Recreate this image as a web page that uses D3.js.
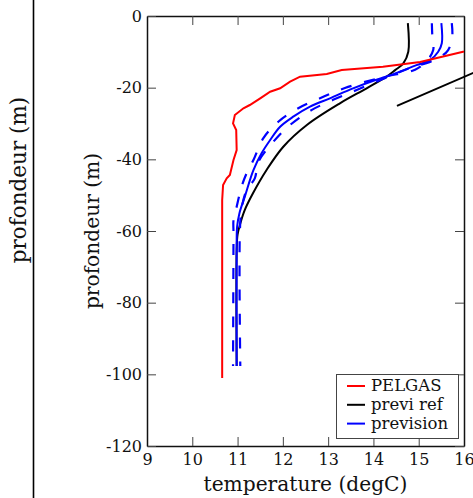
<!DOCTYPE html>
<html>
<head>
<meta charset="utf-8">
<script src="https://cdn.jsdelivr.net/npm/d3@7"></script>
<style>
  html, body { margin: 0; padding: 0; background: #fff; }
  svg { display: block; font-family: "DejaVu Serif", serif; }
</style>
</head>
<body>
<svg id="chart" width="473" height="498"></svg>
<script>
// ---- data ----
const xTicks = [9, 10, 11, 12, 13, 14, 15, 16];
const yTicks = [0, -20, -40, -60, -80, -100, -120];
const seriesNames = ["PELGAS", "previ ref", "prevision"];

const pelgasDepth = [-9.0, -9.96, -12.84, -14.15, -15.07, -16.19, -16.94, -18.34, -20.18, -21.13, -22.97, -24.84, -25.76, -27.63, -29.95, -31.82, -37.4, -40.19, -44.38, -45.3, -47.17, -51.35, -101.0];
const pelgasTemp  = [16.3, 15.98, 15.03, 14.21, 13.30, 12.97, 12.38, 12.16, 11.94, 11.72, 11.50, 11.27, 11.13, 10.94, 10.90, 10.97, 10.98, 10.91, 10.83, 10.76, 10.68, 10.66, 10.66];

const refDepth = [-2, -9.96, -13.2, -15.1, -16.94, -20.18, -24.37, -30.42, -36.48, -42.98, -49.48, -54.1, -57.9, -61.0, -65.3, -97.7];
const refTemp  = [14.76, 14.77, 14.66, 14.48, 14.29, 13.85, 13.26, 12.53, 12.01, 11.64, 11.34, 11.16, 11.06, 11.0, 10.98, 10.98];

const prevDepth = [-2, -7.6, -9.96, -12.3, -13.7, -15.5, -16.9, -18.06, -20.2, -22.97, -25.3, -28.1, -30.9, -34.6, -38.3, -43.0, -50.4, -55.1, -58.8, -65.3, -97.7];
const prevTemp  = [15.50, 15.51, 15.43, 15.25, 14.95, 14.59, 14.29, 14.0, 13.55, 13.04, 12.60, 12.23, 11.94, 11.72, 11.53, 11.35, 11.16, 11.04, 10.99, 10.98, 10.98];

const prevLowDepth = [-2, -5.5, -9.5, -12.5, -15.0, -17.0, -20.1, -22.97, -25.76, -29.5, -34.1, -40.2, -43.9, -47.6, -53.2, -56.9, -60.6, -97.7];
const prevLowTemp  = [15.29, 15.30, 15.32, 15.18, 14.92, 14.23, 13.37, 12.82, 12.34, 11.90, 11.57, 11.35, 11.20, 11.09, 10.98, 10.91, 10.91, 10.90];

const prevHighDepth = [-2, -6, -9.5, -11.5, -12.8, -14.5, -16.5, -20.65, -23.4, -26.2, -30.4, -35.1, -40.7, -45.3, -48.6, -53.7, -60.6, -97.7];
const prevHighTemp  = [15.73, 15.74, 15.65, 15.47, 15.25, 14.81, 14.41, 13.63, 13.11, 12.64, 12.16, 11.79, 11.46, 11.38, 11.20, 11.09, 11.05, 11.06];

// piece of a neighbouring figure that pokes into the right side
const strayDepth = [-25.1, -15.07];
const strayTemp  = [14.52, 16.35];

// ---- layout ----
const W = 473, H = 498;
const m = { left: 147, right: 464, top: 16, bottom: 446 };
const svg = d3.select("#chart");

const x = d3.scaleLinear().domain([9, 16]).range([m.left, m.right]);
const y = d3.scaleLinear().domain([0, -120]).range([m.top, m.bottom]);

const zip = (ds, ts) => ds.map((d, i) => ({ d: d, t: ts[i] }));

svg.append("clipPath").attr("id", "plotclip")
  .append("rect").attr("x", m.left).attr("y", m.top)
  .attr("width", m.right - m.left).attr("height", m.bottom - m.top);

// outer vertical line and label belonging to neighbouring figure
svg.append("line").attr("x1", 33.5).attr("x2", 33.5).attr("y1", 0).attr("y2", H)
  .attr("stroke", "#000").attr("stroke-width", 1.6);
svg.append("text")
  .attr("transform", "translate(26,180) rotate(-90)")
  .attr("text-anchor", "middle").attr("font-size", 21.5).attr("fill", "#111")
  .text("profondeur (m)");

// axes
const fmt = d => String(d);
const tickLen = 9;
function styleAxis(g) {
  g.select(".domain").attr("stroke", "#111").attr("stroke-width", 1.5);
  g.selectAll(".tick line").attr("stroke", "#444").attr("stroke-width", 1);
  g.selectAll(".tick text").attr("fill", "#111").attr("font-size", 16)
    .attr("font-family", "DejaVu Serif");
}
svg.append("g").attr("transform", `translate(0,${m.bottom})`)
  .call(d3.axisBottom(x).tickValues(xTicks).tickFormat(fmt).tickSizeInner(-tickLen).tickSizeOuter(0).tickPadding(7.5))
  .call(styleAxis);
svg.append("g").attr("transform", `translate(0,${m.top})`)
  .call(d3.axisTop(x).tickValues(xTicks).tickFormat("").tickSizeInner(-tickLen).tickSizeOuter(0))
  .call(styleAxis);
svg.append("g").attr("transform", `translate(${m.left},0)`)
  .call(d3.axisLeft(y).tickValues(yTicks).tickFormat(fmt).tickSizeInner(-tickLen).tickSizeOuter(0).tickPadding(5))
  .call(styleAxis);
svg.append("g").attr("transform", `translate(${m.right},0)`)
  .call(d3.axisRight(y).tickValues(yTicks).tickFormat("").tickSizeInner(-tickLen).tickSizeOuter(0))
  .call(styleAxis);

// axis labels
svg.append("text").attr("x", (m.left + m.right) / 2).attr("y", 490.5)
  .attr("text-anchor", "middle").attr("font-size", 20.2).attr("fill", "#111")
  .text("temperature (degC)");
svg.append("text")
  .attr("transform", `translate(98.5,${(m.top + m.bottom) / 2}) rotate(-90)`)
  .attr("text-anchor", "middle").attr("font-size", 20.2).attr("fill", "#111")
  .text("profondeur (m)");

// lines
const smooth = d3.line().x(p => x(p.t)).y(p => y(p.d)).curve(d3.curveCatmullRom.alpha(0.5));
const straight = d3.line().x(p => x(p.t)).y(p => y(p.d));
const plot = svg.append("g").attr("clip-path", "url(#plotclip)");

plot.append("path").datum(zip(refDepth, refTemp)).attr("d", smooth)
  .attr("fill", "none").attr("stroke", "#000").attr("stroke-width", 2);
plot.append("path").datum(zip(prevLowDepth, prevLowTemp)).attr("d", smooth)
  .attr("fill", "none").attr("stroke", "#0000ff").attr("stroke-width", 2.2)
  .attr("stroke-dasharray", "11,13");
plot.append("path").datum(zip(prevHighDepth, prevHighTemp)).attr("d", smooth)
  .attr("fill", "none").attr("stroke", "#0000ff").attr("stroke-width", 2.2)
  .attr("stroke-dasharray", "11,13");
plot.append("path").datum(zip(prevDepth, prevTemp)).attr("d", smooth)
  .attr("fill", "none").attr("stroke", "#0000ff").attr("stroke-width", 2);
plot.append("path").datum(zip(pelgasDepth, pelgasTemp)).attr("d", straight)
  .attr("fill", "none").attr("stroke", "#ff0000").attr("stroke-width", 2);

// stray line from neighbouring panel (not clipped)
svg.append("path").datum(zip(strayDepth, strayTemp)).attr("d", straight)
  .attr("fill", "none").attr("stroke", "#000").attr("stroke-width", 2);

// legend
const colors = ["#ff0000", "#000000", "#0000ff"];
const lg = svg.append("g");
const lgW = 122, lgH = 64;
const lgX = m.right - 6 - lgW, lgY = m.bottom - 8 - lgH;
lg.append("rect").attr("x", lgX + 0.5).attr("y", lgY + 0.5).attr("width", lgW).attr("height", lgH)
  .attr("fill", "#fff").attr("stroke", "#444").attr("stroke-width", 1);
seriesNames.forEach((name, i) => {
  const ly = lgY + 12 + i * 18.8;
  lg.append("line").attr("x1", lgX + 11).attr("x2", lgX + 29).attr("y1", ly).attr("y2", ly)
    .attr("stroke", colors[i]).attr("stroke-width", 2);
  lg.append("text").attr("x", lgX + 35).attr("y", ly + 5.2)
    .attr("font-size", 16.5).attr("fill", "#111").text(name);
});
</script>
</body>
</html>
